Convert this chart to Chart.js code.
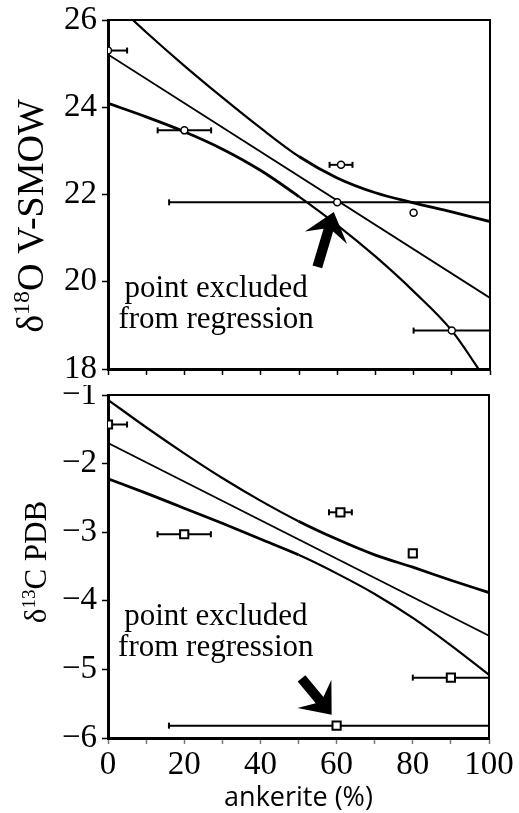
<!DOCTYPE html>
<html>
<head>
<meta charset="utf-8">
<script src="https://cdn.jsdelivr.net/npm/chart.js@4.4.0/dist/chart.umd.min.js"></script>
<style>
  body { margin: 0; background: #fff; }
  #wrap { position: relative; width: 519px; height: 813px; }
  .panel { position: absolute; left: 0; width: 519px; }
  #top { top: 0; height: 385px; }
  #bottom { top: 385px; height: 428px; }
</style>
</head>
<body>
<div id="wrap">
  <div class="panel" id="top"><canvas id="chartO"></canvas></div>
  <div class="panel" id="bottom"><canvas id="chartC"></canvas></div>
</div>
<script>
const curveX = [0, 10, 20, 30, 40, 50, 60, 70, 80, 90, 100];
const fitX = [0, 100];

// d18O panel
const oUpper = [26.53, 25.72, 24.95, 24.22, 23.52, 22.87, 22.38, 22.04, 21.81, 21.6, 21.38];
const oFit = [25.21, 19.63];
const oLower = [24.09, 23.78, 23.44, 23.04, 22.55, 21.95, 21.3, 20.58, 19.78, 18.88, 17.6];
const oX = [0, 20, 60, 61, 80, 90];
const oY = [25.3, 23.47, 21.82, 22.68, 21.58, 18.88];
const oErrLo = [0, 13, 16, 58, null, 80];
const oErrHi = [5, 27, 100, 64, null, 100];
const oTicks = [18, 20, 22, 24, 26];

// d13C panel
const cUpper = [-1.07, -1.47, -1.85, -2.21, -2.54, -2.84, -3.10, -3.33, -3.51, -3.70, -3.88];
const cFit = [-1.70, -4.51];
const cLower = [-2.22, -2.43, -2.65, -2.87, -3.10, -3.33, -3.60, -3.90, -4.25, -4.65, -5.08];
const cX = [0, 20, 60, 61, 80, 90];
const cY = [-1.43, -3.03, -5.82, -2.71, -3.31, -5.12];
const cErrLo = [0, 13, 16, 58, null, 80];
const cErrHi = [5, 27, 100, 64, null, 100];
const cTicks = [-6, -5, -4, -3, -2, -1];

const xTickValues = [0, 20, 40, 60, 80, 100];
const noteLines = ['point excluded', 'from regression'];

Chart.defaults.font.family = "'Liberation Serif', 'Times New Roman', serif";
Chart.defaults.color = '#000';
Chart.defaults.animation = false;

function drawArrow(ctx, x0, y0, x1, y1) {
    const dx = x1 - x0, dy = y1 - y0, len = Math.hypot(dx, dy);
    const ux = dx / len, uy = dy / len, nx = -uy, ny = ux;
    const head = 27, half = 22, shaft = 5;
    const bx = x1 - ux * head, by = y1 - uy * head;
    const kx = x1 - ux * head * 0.7, ky = y1 - uy * head * 0.7;
    ctx.beginPath();
    ctx.moveTo(x1, y1);
    ctx.lineTo(bx + nx * half, by + ny * half);
    ctx.lineTo(kx + nx * shaft, ky + ny * shaft);
    ctx.lineTo(x0 + nx * shaft, y0 + ny * shaft);
    ctx.lineTo(x0 - nx * shaft, y0 - ny * shaft);
    ctx.lineTo(kx - nx * shaft, ky - ny * shaft);
    ctx.lineTo(bx - nx * half, by - ny * half);
    ctx.closePath();
    ctx.fill();
}

function drawYTitle(ctx, t) {
    const big = t.size + 'px "Liberation Serif"';
    const small = Math.round(t.size * 0.62) + 'px "Liberation Serif"';
    const parts = [[t.pre, big, 0], [t.sup, small, -t.size * 0.36], [t.post, big, 0]];
    let total = 0;
    parts.forEach(p => { ctx.font = p[1]; p.push(ctx.measureText(p[0]).width); total += p[3]; });
    ctx.save();
    ctx.translate(t.x, t.y);
    ctx.rotate(-Math.PI / 2);
    ctx.textAlign = 'left';
    ctx.textBaseline = 'alphabetic';
    let pos = -total / 2;
    parts.forEach(p => { ctx.font = p[1]; ctx.fillText(p[0], pos, p[2]); pos += p[3]; });
    ctx.restore();
}

const panelDecor = {
    id: 'panelDecor',
    afterDatasetsDraw(chart, args, opts) {
        const { ctx, chartArea: a, scales: { x, y } } = chart;
        ctx.save();
        ctx.strokeStyle = '#000';
        ctx.lineWidth = 2;
        ctx.beginPath();
        ctx.moveTo(a.left, a.top);
        ctx.lineTo(a.right, a.top);
        ctx.lineTo(a.right, a.bottom);
        ctx.stroke();

        ctx.fillStyle = '#000';
        ctx.font = '31px "Liberation Serif"';
        ctx.textAlign = 'center';
        ctx.textBaseline = 'alphabetic';
        noteLines.forEach((line, i) => {
            ctx.fillText(line, x.getPixelForValue(opts.noteX), y.getPixelForValue(opts.noteY[i]));
        });

        drawArrow(ctx,
            x.getPixelForValue(opts.arrowTail[0]), y.getPixelForValue(opts.arrowTail[1]),
            x.getPixelForValue(opts.arrowTip[0]), y.getPixelForValue(opts.arrowTip[1]));

        drawYTitle(ctx, opts.yTitle);
        ctx.restore();
    }
};

const crearPanel = (canvasId, p) => {
    const datasets = [];

    datasets.push({
        data: p.xs.map((x, i) => ({ x, y: p.ys[i] })),
        showLine: false,
        pointStyle: p.marker,
        pointRadius: p.markerRadius,
        pointBorderWidth: p.markerBorder,
        pointBackgroundColor: '#fff',
        pointBorderColor: '#000',
        order: 0
    });

    p.xs.forEach((x, i) => {
        if (p.lo[i] === null) return;
        datasets.push({
            data: [{ x: p.lo[i], y: p.ys[i] }, { x: p.hi[i], y: p.ys[i] }],
            borderColor: '#000',
            borderWidth: 2,
            pointStyle: 'line',
            pointRotation: 90,
            pointRadius: 3,
            pointBorderWidth: 2,
            pointBorderColor: '#000',
            clip: 2,
            order: 1
        });
    });

    const curve = (ys, seg) => ({
        data: curveX.map((x, i) => ({ x, y: ys[i] })),
        borderColor: '#000',
        borderWidth: 2.5,
        segment: { borderWidth: seg },
        pointRadius: 0,
        cubicInterpolationMode: 'monotone',
        clip: 0,
        order: 2
    });
    datasets.push(curve(p.upper, c => (c.p0.parsed.x < 50 ? 2.2 : 2.8)));
    datasets.push(curve(p.lower, c => (c.p0.parsed.x < 50 ? 2.8 : 2.2)));
    datasets.push({
        data: fitX.map((x, i) => ({ x, y: p.fit[i] })),
        borderColor: '#000',
        borderWidth: 1.8,
        pointRadius: 0,
        clip: 0,
        order: 2
    });

    new Chart(document.getElementById(canvasId), {
        type: 'line',
        data: { datasets },
        plugins: [panelDecor],
        options: {
            responsive: true,
            maintainAspectRatio: false,
            events: [],
            layout: { padding: p.padding },
            plugins: {
                legend: { display: false },
                tooltip: { enabled: false },
                panelDecor: p.decor
            },
            scales: {
                x: {
                    type: 'linear',
                    min: 0,
                    max: 100,
                    ticks: {
                        display: p.showX,
                        stepSize: 10,
                        autoSkip: false,
                        maxRotation: 0,
                        padding: 2,
                        font: { size: 33 },
                        callback: (v) => (xTickValues.includes(v) ? String(v) : '')
                    },
                    grid: { drawOnChartArea: false, tickLength: 6, tickColor: p.xTickColor, tickWidth: 1.5 },
                    border: { color: '#000', width: 3 },
                    title: {
                        display: p.showX,
                        text: 'ankerite (%)',
                        font: { family: "'Open Sans', sans-serif", size: 27, lineHeight: 1 },
                        padding: { top: 0, bottom: 1.5 }
                    },
                    afterFit: (s) => { s.height = p.xHeight; s.paddingLeft = 0; s.paddingRight = 0; }
                },
                y: {
                    type: 'linear',
                    min: p.yMin,
                    max: p.yMax,
                    afterBuildTicks: (s) => { s.ticks = p.ticks.map((v) => ({ value: v })); },
                    ticks: {
                        padding: 5,
                        font: { size: 33 },
                        callback: (v) => String(v).replace('-', '\u2212')
                    },
                    grid: { drawOnChartArea: false, tickLength: 6, tickColor: '#000', tickWidth: 1.5 },
                    border: { color: '#000', width: 3 },
                    afterFit: (s) => { s.width = 108; s.paddingTop = 0; s.paddingBottom = 0; }
                }
            }
        }
    });
};

crearPanel('chartO', {
    xs: oX, ys: oY, lo: oErrLo, hi: oErrHi,
    upper: oUpper, lower: oLower, fit: oFit,
    ticks: oTicks, yMin: 18, yMax: 26,
    marker: 'circle', markerRadius: 3.5, markerBorder: 1.5,
    showX: false, xHeight: 16, xTickColor: '#000',
    padding: { top: 20, right: 29, bottom: 0, left: 0 },
    decor: {
        noteX: 28.3, noteY: [19.65, 18.94],
        arrowTail: [54.8, 20.34], arrowTip: [59.1, 21.6],
        yTitle: { x: 43, y: 216, size: 38, pre: '\u03b4', sup: '18', post: 'O V-SMOW' }
    }
});

crearPanel('chartC', {
    xs: cX, ys: cY, lo: cErrLo, hi: cErrHi,
    upper: cUpper, lower: cLower, fit: cFit,
    ticks: cTicks, yMin: -6, yMax: -1,
    marker: 'rect', markerRadius: 5.8, markerBorder: 2,
    showX: true, xHeight: 75, xTickColor: '#777',
    padding: { top: 10, right: 30, bottom: 0, left: 0 },
    decor: {
        noteX: 28.3, noteY: [-4.35, -4.81],
        arrowTail: [50.8, -5.13], arrowTip: [58.7, -5.66],
        yTitle: { x: 46, y: 177, size: 31, pre: '\u03b4', sup: '13', post: 'C PDB' }
    }
});
</script>
</body>
</html>
